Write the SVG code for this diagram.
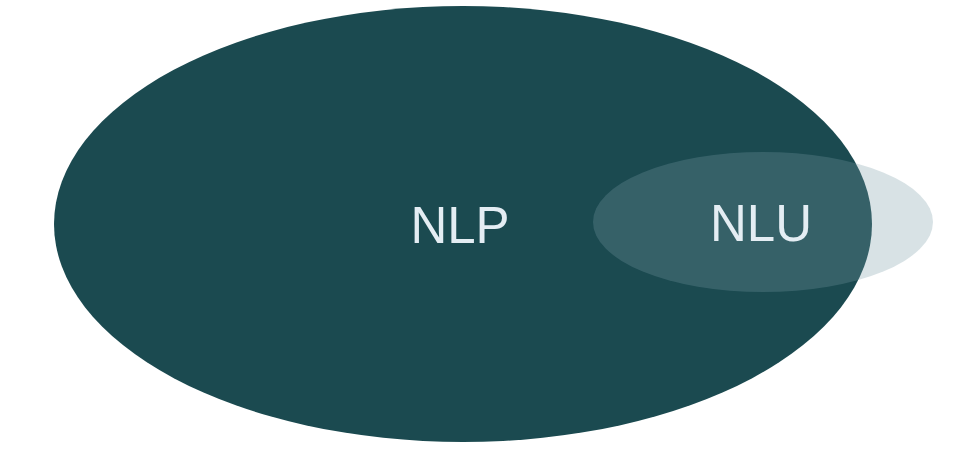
<svg xmlns="http://www.w3.org/2000/svg" width="966" height="456" viewBox="0 0 966 456">
<style>
.lbl{font-family:"Liberation Sans",Arial,sans-serif;font-size:51px;fill:#e4edf3;text-anchor:middle}
</style>
<rect width="966" height="456" fill="#ffffff"/>
<g id="nlp">
<ellipse cx="463" cy="224" rx="409" ry="218" fill="#1b4a50"/>
<text class="lbl" x="460" y="243">NLP</text>
</g>
<g id="nlu">
<ellipse cx="763" cy="222" rx="170" ry="70" fill="#7a9aa5" fill-opacity="0.29"/>
<text class="lbl" x="761" y="241">NLU</text>
</g>
<g id="connectors"/>
</svg>
